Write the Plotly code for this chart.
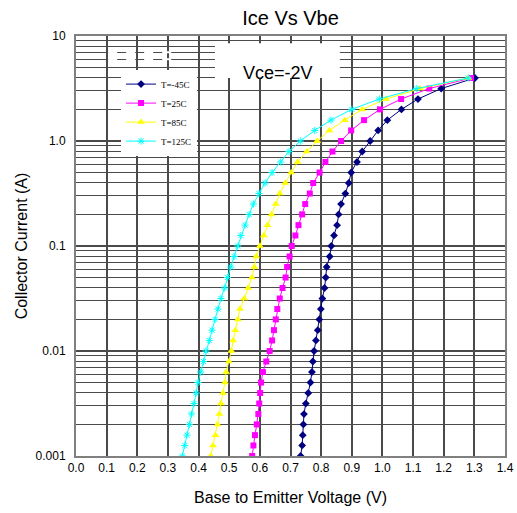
import plotly.graph_objects as go

current = [0.001, 0.00126, 0.00158, 0.002, 0.00251, 0.00316, 0.00398, 0.00501, 0.00631, 0.00794,
           0.01, 0.0126, 0.0158, 0.02, 0.0251, 0.0316, 0.0398, 0.0501, 0.0631, 0.0794,
           0.1, 0.126, 0.158, 0.2, 0.251, 0.316, 0.398, 0.501, 0.631, 0.794,
           1.0, 1.26, 1.58, 2.0, 2.51, 3.16, 3.98]
vbe_m45 = [0.733, 0.738, 0.740, 0.742, 0.744, 0.750, 0.758, 0.765, 0.770, 0.773,
           0.777, 0.783, 0.789, 0.794, 0.799, 0.804, 0.811, 0.815, 0.818, 0.828,
           0.833, 0.842, 0.852, 0.857, 0.865, 0.879, 0.890, 0.898, 0.917, 0.934,
           0.960, 0.986, 1.016, 1.062, 1.116, 1.192, 1.302]
vbe_25 = [0.575, 0.579, 0.584, 0.590, 0.595, 0.598, 0.601, 0.604, 0.610, 0.621,
          0.632, 0.640, 0.646, 0.652, 0.657, 0.665, 0.674, 0.684, 0.689, 0.697,
          0.704, 0.716, 0.726, 0.738, 0.748, 0.763, 0.774, 0.795, 0.814, 0.837,
          0.865, 0.898, 0.940, 0.992, 1.061, 1.153, 1.289]
vbe_85 = [0.440, 0.447, 0.455, 0.462, 0.468, 0.473, 0.480, 0.486, 0.490, 0.499,
          0.507, 0.513, 0.520, 0.528, 0.535, 0.549, 0.562, 0.574, 0.582, 0.588,
          0.600, 0.613, 0.625, 0.638, 0.652, 0.665, 0.683, 0.702, 0.723, 0.753,
          0.787, 0.827, 0.877, 0.934, 1.012, 1.123, 1.280]
vbe_125 = [0.347, 0.355, 0.362, 0.370, 0.377, 0.385, 0.392, 0.398, 0.407, 0.416,
           0.424, 0.435, 0.444, 0.454, 0.463, 0.473, 0.485, 0.494, 0.505, 0.516,
           0.528, 0.538, 0.552, 0.565, 0.579, 0.597, 0.617, 0.640, 0.668, 0.695,
           0.732, 0.779, 0.832, 0.900, 0.990, 1.112, 1.280]

series_names = ["T=-45C", "T=25C", "T=85C", "T=125C"]
series_vals = [vbe_m45, vbe_25, vbe_85, vbe_125]
colors = ["#000080", "#FF00FF", "#FFFF00", "#00FFFF"]
symbols = ["diamond", "square", "triangle-up", "asterisk-open"]
msizes = [6, 6, 7, 6]

x_ticks = [0.0, 0.1, 0.2, 0.3, 0.4, 0.5, 0.6, 0.7, 0.8, 0.9, 1.0, 1.1, 1.2, 1.3, 1.4]
y_ticks = [0.001, 0.01, 0.1, 1.0, 10]
y_ticktext = ["0.001", "0.01", "0.1", "1.0", "10"]

fig = go.Figure()
for name, vals, c, s, ms in zip(series_names, series_vals, colors, symbols, msizes):
    fig.add_trace(go.Scatter(
        x=vals, y=current, name=name, mode="lines+markers",
        line=dict(color=c, width=1),
        marker=dict(color=c, symbol=s, size=ms, line=dict(color=c, width=1 if "open" in s else 0)),
    ))

minor_y = [m * 10 ** e for e in (-3, -2, -1, 0) for m in range(2, 10)]
grid_c = "#4a4a4a"

fig.update_layout(
    width=517, height=513, autosize=False,
    margin=dict(l=76, r=12, t=36, b=57),
    paper_bgcolor="white", plot_bgcolor="white",
    font=dict(family="Liberation Sans, Arial, sans-serif", color="#000"),
    title=dict(text="Ice Vs Vbe", x=0.5, xref="paper", xanchor="center",
               y=0.965, yanchor="middle", font=dict(size=20, color="#000")),
    xaxis=dict(range=[0, 1.4], tickvals=x_ticks, ticktext=[f"{v:.1f}" for v in x_ticks],
               showgrid=True, gridcolor=grid_c, gridwidth=1.5,
               showline=True, linecolor="#808080", linewidth=2, mirror=True,
               zeroline=False, ticks="", tickfont=dict(size=12), automargin=False,
               title=dict(text="Base to Emitter Voltage (V)", font=dict(size=16), standoff=17)),
    yaxis=dict(type="log", range=[-3, 1], tickvals=y_ticks, ticktext=y_ticktext,
               showgrid=True, gridcolor=grid_c, gridwidth=1.5,
               minor=dict(tickvals=minor_y, showgrid=True, gridcolor=grid_c, gridwidth=1.2, ticks=""),
               showline=True, linecolor="#808080", linewidth=2, mirror=True, automargin=False,
               zeroline=False, ticks="", tickfont=dict(size=12), ticklabelstandoff=6,
               title=dict(text="Collector Current (A)", font=dict(size=16), standoff=4)),
    legend=dict(x=0.105, y=0.92, xanchor="left", yanchor="top",
                bgcolor="white", borderwidth=0,
                font=dict(family="Liberation Serif, Times New Roman, serif", size=9, color="#000"),
                itemwidth=30, tracegroupgap=0),
    showlegend=True,
)

# white box behind the Vce label
fig.add_shape(type="rect", xref="paper", yref="paper", x0=0.324, x1=0.615, y0=0.900, y1=0.983,
              fillcolor="white", line=dict(width=0), layer="above")
# faint white dashed remnants over the grid at the top-left
for gy in (7, 6):
    fig.add_shape(type="line", xref="paper", yref="y", x0=0.075, x1=0.238, y0=gy, y1=gy,
                  line=dict(color="white", width=2, dash="dash"), layer="above")
fig.add_annotation(text="Vce=-2V", xref="paper", yref="paper", x=0.47, y=0.94,
                   showarrow=False, font=dict(size=18, color="#000"))

post = (
    "document.documentElement.style.margin='0';"
    "document.body.style.margin='0';document.body.style.padding='0';"
    "document.body.style.overflow='hidden';"
    "var gd=document.getElementById('{plot_id}');"
    "gd.style.width='517px';gd.style.height='513px';"
    "Plotly.relayout(gd,{width:517,height:513,autosize:false});"
)

fig.write_html("out.html", config={"responsive": False, "displayModeBar": False}, post_script=post)
